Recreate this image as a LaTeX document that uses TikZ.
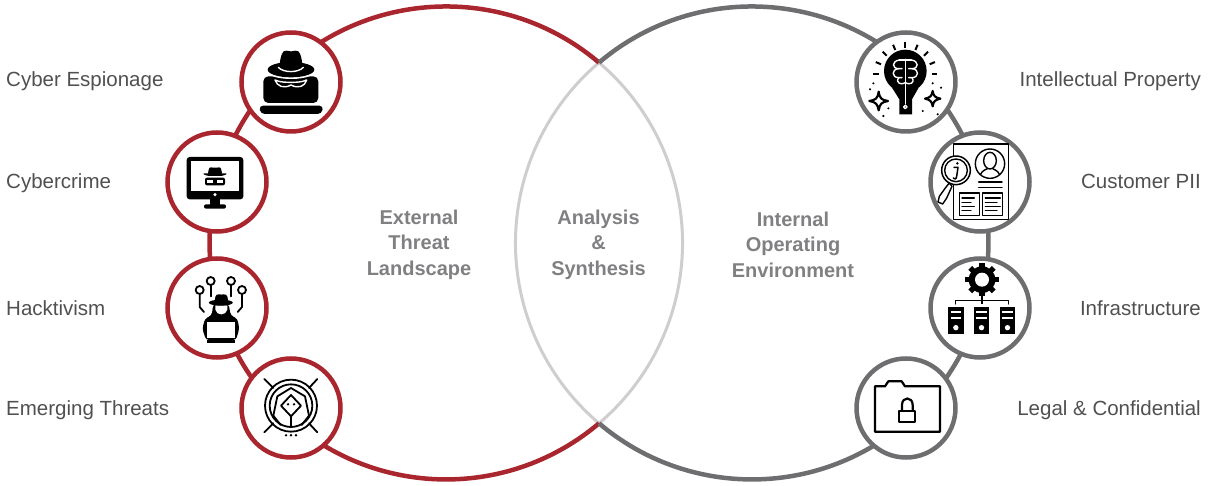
\documentclass[tikz,border=0pt]{standalone}
\usepackage{fontspec}
\setmainfont{Liberation Sans}
\definecolor{threatred}{HTML}{A9262E}
\definecolor{opgray}{HTML}{6E6E70}
\definecolor{lensgray}{HTML}{CFCDCD}
\definecolor{labelgray}{HTML}{505052}
\definecolor{titlegray}{HTML}{808082}
% icons are written in a 3x grid, each from its own origin
\newcommand{\iconat}[3]{\begin{scope}[shift={(#1.center)}, x=.3333pt, y=-.3333pt, shift={#2}] #3 \end{scope}}
\begin{document}
\begin{tikzpicture}[x=1pt, y=1pt]
\tikzstyle{arcline} = [line width=4.5pt]
\tikzstyle{lensline} = [line width=3pt, draw=lensgray]
\tikzstyle{badge} = [circle, fill=white, line width=4.5pt, minimum size=99pt, inner sep=0pt]
\tikzstyle{redbadge} = [badge, draw=threatred]
\tikzstyle{graybadge} = [badge, draw=opgray]
\tikzstyle{side} = [text=labelgray, inner sep=0pt, font=\fontsize{20.5}{24}\selectfont]
\tikzstyle{title} = [text=titlegray, inner sep=0pt, align=center, font=\fontsize{20}{25.5}\selectfont\bfseries]
\tikzstyle{ico} = [line width=1.8pt, line cap=round, line join=round]
\tikzstyle{icowhite} = [line width=1.4pt, draw=white, line cap=round, line join=round]
\useasboundingbox (0,0) rectangle (1211,485);
\coordinate (leftc) at (446,242);
\coordinate (rightc) at (752,242);
\coordinate (apexT) at (599,422.4);
\draw[lensline] (apexT) arc[start angle=49.7, end angle=-49.7, radius=236.5];
\draw[lensline] (apexT) arc[start angle=130.3, end angle=229.7, radius=236.5];
\draw[arcline, threatred] (apexT) arc[start angle=49.7, end angle=310.3, radius=236.5];
\draw[arcline, opgray] (apexT) arc[start angle=130.3, end angle=-130.3, radius=236.5];
\node[redbadge] (espionage) at (291,403) {};
\node[redbadge] (crime) at (217,303) {};
\node[redbadge] (hackt) at (217,177) {};
\node[redbadge] (emerging) at (291,77) {};
\node[graybadge] (property) at (906,403) {};
\node[graybadge] (pii) at (980,303) {};
\node[graybadge] (infra) at (980,177) {};
\node[graybadge] (legal) at (906,77) {};
\node[side, anchor=base west] (lab1) at (6,398.5) {Cyber Espionage};
\node[side, anchor=base west] (lab2) at (6,296) {Cybercrime};
\node[side, anchor=base west] (lab3) at (6,169) {Hacktivism};
\node[side, anchor=base west] (lab4) at (6,69) {Emerging Threats};
\node[side, anchor=base east] (lab5) at (1201,398.5) {Intellectual Property};
\node[side, anchor=base east] (lab6) at (1201,296) {Customer PII};
\node[side, anchor=base east] (lab7) at (1201,169) {Infrastructure};
\node[side, anchor=base east] (lab8) at (1201,69) {Legal \& Confidential};
\node[title] (external) at (419,240.5) {External\\Threat\\Landscape};
\node[title] (analysis) at (598.5,240.5) {Analysis\\\&\\Synthesis};
\node[title] (internal) at (793,240.5) {Internal\\Operating\\Environment};
% hat on a laptop
\iconat{espionage}{(-393,-249)}{
\fill[rounded corners=5pt] (310,312) -- (310,232) -- (475,232) -- (475,312) -- cycle;
\fill[rounded corners=4pt] (297,320) -- (490,320) -- (485,345) -- (302,345) -- cycle;
\fill[white] (393,212) ellipse (78 and 28);
\fill (393,212) ellipse (70 and 23);
\fill (358,210) .. controls (360,170) and (368,152) .. (380,155) .. controls (388,158) and (398,158) .. (406,155) .. controls (418,152) and (426,170) .. (428,210) -- cycle;
\draw[icowhite] (355,205) .. controls (370,222) and (415,222) .. (430,205);
\draw[icowhite, fill=black] (345,243) .. controls (360,250) and (380,250) .. (393,250) .. controls (406,250) and (425,250) .. (440,243) .. controls (435,262) and (415,270) .. (393,258) .. controls (370,270) and (352,262) .. (345,243) -- cycle;
}
% monitor
\iconat{crime}{(-171,-543)}{
\fill[rounded corners=3pt] (80,468) rectangle (250,595);
\fill[white] (92,480) rectangle (238,570);
\fill[white] (165,581) circle (5);
\fill (150,595) rectangle (180,612);
\fill[rounded corners=2pt] (132,610) rectangle (198,623);
\fill[rounded corners=2pt] (143,520) -- (148,498) -- (165,501) -- (182,498) -- (187,520) -- cycle;
\fill[rounded corners=2pt] (127,517) -- (203,517) -- (190,525) -- (140,525) -- cycle;
\fill[rounded corners=2pt] (135,530) rectangle (195,553);
\fill[white] (142,536) rectangle (160,546);
\fill[white] (170,536) rectangle (188,546);
}
% hacker with links
\iconat{hackt}{(-171,-200)}{
\draw[ico] (119,146) circle (12);
\draw[ico] (152,119) circle (12);
\draw[ico] (213,119) circle (12);
\draw[ico] (246,146) circle (12);
\draw[ico] (119,158) -- (119,197) -- (132,212);
\draw[ico] (152,131) -- (152,165);
\draw[ico] (213,131) -- (213,165);
\draw[ico] (246,158) -- (246,197) -- (233,212);
\fill[rounded corners=3pt] (127,262) -- (135,232) -- (155,222) -- (160,188) -- (206,188) -- (212,222) -- (232,232) -- (238,262) -- (228,296) -- (138,296) -- cycle;
\fill[white] (166,192) -- (202,192) -- (202,205) .. controls (198,224) and (170,224) .. (166,205) -- cycle;
\fill[rounded corners=3pt] (163,184) -- (168,157) -- (184,161) -- (200,157) -- (206,184) -- cycle;
\fill (182.5,184) ellipse (36 and 9);
\fill[white] (140,242) rectangle (225,290);
\fill (140,295) rectangle (226,305);
}
% hooded figure in rings
\iconat{emerging}{(-393,-497)}{
\draw[ico] (393,490) circle (78);
\draw[ico] (393,490) circle (64);
\draw[ico] (313,410) -- (340,437);
\draw[ico] (472,410) -- (447,437);
\draw[ico] (313,570) -- (340,543);
\draw[ico] (472,570) -- (447,543);
\draw[ico] (340,520) -- (352,462) -- (393,437) -- (435,462) -- (447,520);
\draw[ico] (393,458) -- (363,490) -- (393,522) -- (423,490) -- cycle;
\draw[ico] (393,522) -- (393,552);
\draw[ico] (340,520) -- (362,548);
\draw[ico] (447,520) -- (425,548);
\fill (384,486) circle (4);
\fill (402,486) circle (4);
\foreach \dx in {378,393,408} {\fill (\dx,579) circle (4);}
}
% brain bulb
\iconat{property}{(-198,-218)}{
\fill (196,185) circle (64);
\fill (156,235) -- (178,270) -- (178,315) -- (216,315) -- (216,270) -- (236,235) -- cycle;
\draw[icowhite] (196,150) -- (196,284);
\draw[icowhite] (178,152) -- (214,152);
\draw[icowhite] (196,293) circle (5);
\draw[icowhite] (178,152) .. controls (155,155) and (155,178) .. (176,178) -- (186,178);
\draw[icowhite] (176,178) .. controls (153,180) and (155,205) .. (176,205) -- (186,205);
\draw[icowhite] (176,205) .. controls (165,222) and (185,228) .. (196,220);
\draw[icowhite] (214,152) .. controls (237,155) and (237,178) .. (216,178) -- (206,178);
\draw[icowhite] (216,178) .. controls (239,180) and (237,205) .. (216,205) -- (206,205);
\draw[icowhite] (216,205) .. controls (227,222) and (207,228) .. (196,220);
\foreach \a in {0,22.5,...,180} {
\draw[ico, line cap=butt, line width=2pt] ([shift={(-\a:79)}]196,195) -- ([shift={(-\a:96)}]196,195);
}
\draw[ico, line width=2.2pt] (116,247) .. controls (119,268) and (125,272) .. (144,275) .. controls (125,278) and (119,284) .. (116,303) .. controls (113,284) and (107,278) .. (88,275) .. controls (107,272) and (113,268) .. (116,247) -- cycle;
\draw[ico, line width=2.2pt] (278,245) .. controls (280,260) and (286,265) .. (301,268) .. controls (286,271) and (280,276) .. (278,291) .. controls (276,276) and (270,271) .. (255,268) .. controls (270,265) and (276,260) .. (278,245) -- cycle;
\foreach \px/\py in {90/240,100/222,145/297,130/320,248/305,293/315,278/222,303/235} {\fill (\px,\py) circle (3.5);}
}
% document and magnifier
\iconat{pii}{(-422,-512)}{
\draw[ico, line cap=butt, line width=1.5pt] (343,398) rectangle (507,625);
\draw[ico, line width=1.4pt] (452,457) circle (44);
\draw[ico, line width=1.4pt] (452,448) ellipse (19 and 25);
\draw[ico, line width=1.4pt] (423,490) .. controls (430,475) and (440,476) .. (444,472);
\draw[ico, line width=1.4pt] (481,490) .. controls (474,475) and (464,476) .. (460,472);
\draw[ico, line width=1.4pt] (418,512) -- (488,512);
\draw[ico, line width=1.4pt] (418,528) -- (488,528);
\draw[ico, line width=1.4pt] (360,545) rectangle (420,612);
\draw[ico, line width=1.4pt] (430,545) rectangle (490,612);
\foreach \ly/\lx in {560/405,573/395,586/405,598/395} {
\draw[ico, line width=1.2pt] (368,\ly) -- (\lx,\ly);
\draw[ico, line width=1.2pt] (438,\ly) -- (\lx+78,\ly);
}
\draw[ico, line width=1.5pt, fill=white] (350,477) circle (43);
\draw[ico, line width=1.4pt] (350,477) circle (34);
\draw[ico, line width=1.4pt, fill=white] (330,515) -- (318,530) -- (300,555) -- (296,572) -- (310,578) -- (322,560) -- (338,525) -- cycle;
\fill (354,456) circle (4);
\draw[ico, line width=1.5pt] (344,468) -- (356,468) -- (352,495) .. controls (350,505) and (346,505) .. (342,500);
}
% gear over servers
\iconat{infra}{(-422,-200)}{
\foreach \a in {0,45,...,315} {\fill[rotate around={\a:(428,115)}] (420,65) rectangle (436,85);}
\fill (428,115) circle (40);
\fill[white] (428,115) circle (21);
\draw[ico, line width=1.5pt, line cap=butt] (428,160) -- (428,188);
\draw[ico, line width=1.5pt] (348,188) -- (348,178) -- (507,178) -- (507,188);
\foreach \sx in {326,403,481} {
\fill (\sx,196) rectangle (\sx+47,278);
\fill[white] (\sx+8,210) rectangle (\sx+39,216);
\fill[white] (\sx+8,226) rectangle (\sx+39,232);
\fill[white] (\sx+23.5,259) circle (8);
}
}
% locked folder
\iconat{legal}{(-198,-497)}{
\draw[ico, line cap=butt, line width=2.2pt] (105,432) -- (135,432) -- (145,417) -- (185,417) -- (195,432) -- (300,432) -- (300,568) -- (105,568) -- cycle;
\draw[ico, line width=2.2pt] (178,505) rectangle (226,540);
\draw[ico, line width=2.2pt] (186,505) -- (186,488) .. controls (186,462) and (218,462) .. (218,488) -- (218,505);
}
\end{tikzpicture}
\end{document}
